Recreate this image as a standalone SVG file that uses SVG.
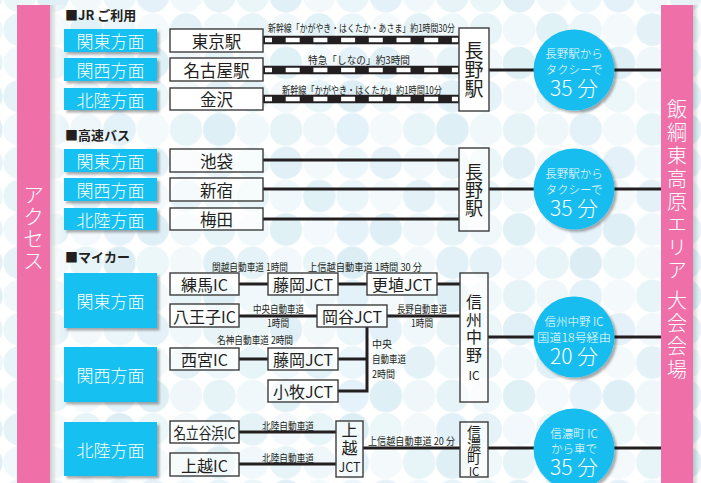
<svg xmlns="http://www.w3.org/2000/svg" width="701" height="483" viewBox="0 0 701 483">
<defs>
<style>
.lab{fill:#17c0f0;filter:url(#sh);}
.labt{font-family:"Noto Sans CJK JP",sans-serif;font-size:17px;font-weight:300;fill:#ffffff;text-anchor:middle;dominant-baseline:central;}
.box{fill:#ffffff;stroke:#3c3c3c;stroke-width:1.4;}
.boxt{fill:#ffffff;fill-opacity:0.62;stroke:#3c3c3c;stroke-width:1.4;}
.nt{font-family:"Noto Sans CJK JP",sans-serif;font-size:16.5px;fill:#231f20;text-anchor:middle;dominant-baseline:central;}
.mt{font-family:"Noto Sans CJK JP",sans-serif;font-size:16px;fill:#231f20;text-anchor:middle;dominant-baseline:central;}
.vt{font-family:"Noto Sans CJK JP",sans-serif;fill:#231f20;writing-mode:vertical-rl;text-anchor:start;}
.sm{font-family:"Noto Sans CJK JP",sans-serif;font-size:10px;fill:#231f20;}
.hd{font-family:"Noto Sans CJK JP",sans-serif;font-size:13px;font-weight:bold;fill:#231f20;}
.cir{fill:#16bdee;filter:url(#sh);}
.ct{font-family:"Noto Sans CJK JP",sans-serif;font-size:11.5px;font-weight:300;fill:#ffffff;text-anchor:middle;dominant-baseline:central;}
.cb{font-family:"Noto Sans CJK JP",sans-serif;font-size:21px;font-weight:300;fill:#ffffff;text-anchor:middle;dominant-baseline:central;}
.bar{fill:#ef6fa9;}
.bart{font-family:"Noto Sans CJK JP",sans-serif;font-weight:300;fill:#ffffff;writing-mode:vertical-rl;text-anchor:start;}
.road{stroke:#231f20;stroke-width:3;fill:none;}
.railb{stroke:#231f20;stroke-width:8.5;fill:none;}
.railw{stroke:#ffffff;stroke-width:4.4;fill:none;stroke-dasharray:14 13.7;stroke-dashoffset:7;}
</style>
<filter id="sh" x="-10%" y="-10%" width="130%" height="140%">
<feDropShadow dx="2.5" dy="2.5" stdDeviation="1.2" flood-color="#000000" flood-opacity="0.32"/>
</filter>
<linearGradient id="shadowL" x1="0" y1="0" x2="1" y2="0">
<stop offset="0" stop-color="#000000" stop-opacity="0.18"/>
<stop offset="1" stop-color="#000000" stop-opacity="0"/>
</linearGradient>
<linearGradient id="whiteL" x1="0" y1="0" x2="1" y2="0">
<stop offset="0" stop-color="#ffffff" stop-opacity="0.8"/>
<stop offset="1" stop-color="#ffffff" stop-opacity="0"/>
</linearGradient>
<pattern id="dots" patternUnits="userSpaceOnUse" x="2.95" y="12.95" width="233.1" height="166.5">
<circle cx="16.65" cy="16.65" r="16.3" fill="#e3f2f7"/>
<circle cx="49.95" cy="16.65" r="16.3" fill="#eef7fa"/>
<circle cx="83.25" cy="16.65" r="16.3" fill="#dcf0f6"/>
<circle cx="116.55" cy="16.65" r="16.3" fill="#e8f4f9"/>
<circle cx="149.85" cy="16.65" r="16.3" fill="#f2f8fb"/>
<circle cx="183.15" cy="16.65" r="16.3" fill="#dff0f6"/>
<circle cx="216.45" cy="16.65" r="16.3" fill="#ebf6f9"/>
<circle cx="16.65" cy="49.95" r="16.3" fill="#eef7fa"/>
<circle cx="49.95" cy="49.95" r="16.3" fill="#dbeef4"/>
<circle cx="83.25" cy="49.95" r="16.3" fill="#f1f8fb"/>
<circle cx="116.55" cy="49.95" r="16.3" fill="#e1f0f9"/>
<circle cx="149.85" cy="49.95" r="16.3" fill="#d8ecf3"/>
<circle cx="183.15" cy="49.95" r="16.3" fill="#edf6f9"/>
<circle cx="216.45" cy="49.95" r="16.3" fill="#e2f2f6"/>
<circle cx="16.65" cy="83.25" r="16.3" fill="#e0f0f5"/>
<circle cx="49.95" cy="83.25" r="16.3" fill="#f0f7fa"/>
<circle cx="83.25" cy="83.25" r="16.3" fill="#e3f2f7"/>
<circle cx="116.55" cy="83.25" r="16.3" fill="#d6ebf2"/>
<circle cx="149.85" cy="83.25" r="16.3" fill="#e8f5f8"/>
<circle cx="183.15" cy="83.25" r="16.3" fill="#f1f8fa"/>
<circle cx="216.45" cy="83.25" r="16.3" fill="#ddeef6"/>
<circle cx="16.65" cy="116.55" r="16.3" fill="#eff7fa"/>
<circle cx="49.95" cy="116.55" r="16.3" fill="#e2f1f6"/>
<circle cx="83.25" cy="116.55" r="16.3" fill="#ecf5f9"/>
<circle cx="116.55" cy="116.55" r="16.3" fill="#deeef7"/>
<circle cx="149.85" cy="116.55" r="16.3" fill="#f2f8fb"/>
<circle cx="183.15" cy="116.55" r="16.3" fill="#e3f2f7"/>
<circle cx="216.45" cy="116.55" r="16.3" fill="#d8ecf3"/>
<circle cx="16.65" cy="149.85" r="16.3" fill="#e6f4f7"/>
<circle cx="49.95" cy="149.85" r="16.3" fill="#dcedf4"/>
<circle cx="83.25" cy="149.85" r="16.3" fill="#f1f8fa"/>
<circle cx="116.55" cy="149.85" r="16.3" fill="#e8f4f9"/>
<circle cx="149.85" cy="149.85" r="16.3" fill="#e0eff7"/>
<circle cx="183.15" cy="149.85" r="16.3" fill="#eff7fa"/>
<circle cx="216.45" cy="149.85" r="16.3" fill="#e3f1f6"/>
</pattern>
</defs>

<g id="background">
<rect x="0" y="0" width="701" height="483" fill="#ffffff"/>
<rect x="0" y="0" width="701" height="483" fill="url(#dots)" opacity="0.85"/>
<rect x="50" y="5" width="16" height="478" fill="url(#whiteL)"/>
<rect x="50" y="5" width="7" height="478" fill="url(#shadowL)"/>
<rect x="693" y="5" width="6" height="478" fill="url(#shadowL)"/>
</g>

<g id="bar-left">
<rect class="bar" x="17" y="5" width="33" height="478"/>
<text class="bart" x="33.5" y="183.5" style="font-size:21px;letter-spacing:1px">アクセス</text>
</g>

<g id="bar-right">
<rect class="bar" x="661" y="5" width="32" height="478"/>
<text class="bart" x="677" y="99" style="font-size:20px;letter-spacing:3px">飯綱東高原エリア 大会会場</text>
</g>

<g id="headers">
<text class="hd" x="65" y="20">■JR ご利用</text>
<text class="hd" x="65" y="140">■高速バス</text>
<text class="hd" x="65" y="262">■マイカー</text>
</g>

<g id="connectors">
<line class="railb" x1="263" y1="40" x2="459" y2="40"/>
<line class="railw" x1="265" y1="40" x2="458" y2="40"/>
<line class="railb" x1="263" y1="70" x2="459" y2="70"/>
<line class="railw" x1="265" y1="70" x2="458" y2="70"/>
<line class="railb" x1="263" y1="99" x2="459" y2="99"/>
<line class="railw" x1="265" y1="99" x2="458" y2="99"/>
<text class="sm" x="268" y="32" textLength="187" lengthAdjust="spacingAndGlyphs">新幹線「かがやき・はくたか・あさま」約1時間30分</text>
<text class="sm" x="308" y="64" textLength="102" lengthAdjust="spacingAndGlyphs">特急「しなの」約3時間</text>
<text class="sm" x="282" y="94" textLength="160" lengthAdjust="spacingAndGlyphs">新幹線「かがやき・はくたか」約1時間10分</text>
<path class="road" d="M489 70 H661"/>
<path class="road" d="M263 160 H459 M263 189 H459 M263 219 H459"/>
<path class="road" d="M489 189 H661"/>
<path class="road" d="M239 284 H268 M338 284 H367 M437 284 H460"/>
<path class="road" d="M239 316 H317 M387 316 H460"/>
<path class="road" d="M239 359 H268 M338 359 H367"/>
<path class="road" d="M367 327 V391 H338"/>
<path class="road" d="M488 337 H661"/>
<path class="road" d="M239 432 H336 M239 464 H336 M363 448 H460"/>
<path class="road" d="M488 448 H661"/>
<text class="sm" x="212" y="270.5" textLength="76" lengthAdjust="spacingAndGlyphs">関越自動車道 1時間</text>
<text class="sm" x="308" y="270.5" textLength="114" lengthAdjust="spacingAndGlyphs">上信越自動車道 1時間 30 分</text>
<text class="sm" x="253" y="313" textLength="51" lengthAdjust="spacingAndGlyphs">中央自動車道</text>
<text class="sm" x="267" y="327" textLength="22" lengthAdjust="spacingAndGlyphs">1時間</text>
<text class="sm" x="397" y="313" textLength="50" lengthAdjust="spacingAndGlyphs">長野自動車道</text>
<text class="sm" x="411" y="327" textLength="22" lengthAdjust="spacingAndGlyphs">1時間</text>
<text class="sm" x="217" y="344" textLength="76" lengthAdjust="spacingAndGlyphs">名神自動車道 2時間</text>
<text class="sm" x="372" y="348">中央</text>
<text class="sm" x="372" y="363" textLength="34" lengthAdjust="spacingAndGlyphs">自動車道</text>
<text class="sm" x="372" y="378" textLength="23" lengthAdjust="spacingAndGlyphs">2時間</text>
<text class="sm" x="262" y="429.5" textLength="52" lengthAdjust="spacingAndGlyphs">北陸自動車道</text>
<text class="sm" x="262" y="461.5" textLength="52" lengthAdjust="spacingAndGlyphs">北陸自動車道</text>
<text class="sm" x="368" y="445" textLength="87" lengthAdjust="spacingAndGlyphs">上信越自動車道 20 分</text>
</g>

<g id="jr-kanto"><rect class="lab" x="64" y="29" width="93" height="23"/><text class="labt" x="110.5" y="40.5">関東方面</text></g>
<g id="jr-kansai"><rect class="lab" x="64" y="58" width="93" height="23"/><text class="labt" x="110.5" y="69.5">関西方面</text></g>
<g id="jr-hokuriku"><rect class="lab" x="64" y="88" width="93" height="22"/><text class="labt" x="110.5" y="99">北陸方面</text></g>
<g id="jr-tokyo"><rect class="box" x="170" y="29" width="93" height="23"/><text class="nt" x="216.5" y="40.5">東京駅</text></g>
<g id="jr-nagoya"><rect class="box" x="170" y="58" width="93" height="23"/><text class="nt" x="216.5" y="69.5">名古屋駅</text></g>
<g id="jr-kanazawa"><rect class="box" x="170" y="88" width="93" height="22"/><text class="nt" x="216.5" y="99">金沢</text></g>
<g id="jr-nagano"><rect class="box" x="459" y="28" width="30" height="83"/><text class="vt" x="474" y="41" style="font-size:19px">長野駅</text></g>
<g id="jr-time"><circle class="cir" cx="574" cy="70" r="40.5"/><text class="ct" x="574" y="53">長野駅から</text><text class="ct" x="574" y="68.5">タクシーで</text><text class="cb" x="574" y="87">35 分</text></g>

<g id="bus-kanto"><rect class="lab" x="64" y="149" width="93" height="23"/><text class="labt" x="110.5" y="160.5">関東方面</text></g>
<g id="bus-kansai"><rect class="lab" x="64" y="178" width="93" height="23"/><text class="labt" x="110.5" y="189.5">関西方面</text></g>
<g id="bus-hokuriku"><rect class="lab" x="64" y="208" width="93" height="22"/><text class="labt" x="110.5" y="219">北陸方面</text></g>
<g id="bus-ikebukuro"><rect class="boxt" x="170" y="149" width="93" height="23"/><text class="nt" x="216.5" y="160.5">池袋</text></g>
<g id="bus-shinjuku"><rect class="boxt" x="170" y="178" width="93" height="23"/><text class="nt" x="216.5" y="189.5">新宿</text></g>
<g id="bus-umeda"><rect class="boxt" x="170" y="208" width="93" height="22"/><text class="nt" x="216.5" y="219">梅田</text></g>
<g id="bus-nagano"><rect class="boxt" x="459" y="148" width="30" height="83"/><text class="vt" x="474" y="163" style="font-size:18px">長野駅</text></g>
<g id="bus-time"><circle class="cir" cx="574" cy="189" r="40.5"/><text class="ct" x="574" y="173">長野駅から</text><text class="ct" x="574" y="188.5">タクシーで</text><text class="cb" x="574" y="207">35 分</text></g>

<g id="car-kanto"><rect class="lab" x="64" y="273" width="93" height="55"/><text class="labt" x="110.5" y="300.5">関東方面</text></g>
<g id="car-kansai"><rect class="lab" x="64" y="347" width="93" height="55"/><text class="labt" x="110.5" y="374.5">関西方面</text></g>
<g id="car-hokuriku"><rect class="lab" x="64" y="422" width="93" height="54"/><text class="labt" x="110.5" y="449">北陸方面</text></g>
<g id="car-nerima"><rect class="boxt" x="170" y="273" width="69" height="22"/><text class="mt" x="204.5" y="284">練馬IC</text></g>
<g id="car-fujioka1"><rect class="boxt" x="268" y="273" width="70" height="22"/><text class="mt" x="303" y="284">藤岡JCT</text></g>
<g id="car-koshoku"><rect class="boxt" x="367" y="273" width="70" height="22"/><text class="mt" x="402" y="284">更埴JCT</text></g>
<g id="car-hachioji"><rect class="boxt" x="170" y="304" width="69" height="23"/><text class="mt" x="204.5" y="315.5">八王子IC</text></g>
<g id="car-okaya"><rect class="boxt" x="317" y="305" width="70" height="22"/><text class="mt" x="352" y="316">岡谷JCT</text></g>
<g id="car-nishinomiya"><rect class="boxt" x="170" y="348" width="69" height="22"/><text class="mt" x="204.5" y="359">西宮IC</text></g>
<g id="car-fujioka2"><rect class="boxt" x="268" y="348" width="70" height="22"/><text class="mt" x="303" y="359">藤岡JCT</text></g>
<g id="car-komaki"><rect class="boxt" x="268" y="380" width="70" height="22"/><text class="mt" x="303" y="391">小牧JCT</text></g>
<g id="car-shinshunakano"><rect class="boxt" x="460" y="273" width="28" height="129"/><text class="vt" x="474" y="294" style="font-size:16px;letter-spacing:1.7px">信州中野</text><text class="mt" x="474" y="374" style="font-size:12px">IC</text></g>
<g id="car-nadachi"><rect class="boxt" x="170" y="421" width="69" height="22"/><text class="mt" x="204.5" y="432" textLength="62" lengthAdjust="spacingAndGlyphs">名立谷浜IC</text></g>
<g id="car-joetsu"><rect class="boxt" x="170" y="453" width="69" height="23"/><text class="mt" x="204.5" y="464.5">上越IC</text></g>
<g id="car-joetsujct"><rect class="boxt" x="336" y="421" width="27" height="56"/><text class="vt" x="349.5" y="422" style="font-size:16px;letter-spacing:1.5px">上越</text><text class="mt" x="349.5" y="466" style="font-size:12.5px">JCT</text></g>
<g id="car-shinanomachi"><rect class="boxt" x="460" y="422" width="28" height="55"/><text class="vt" x="474" y="424.5" style="font-size:14px;letter-spacing:-0.7px">信濃町</text><text class="mt" x="474" y="471" style="font-size:11.5px">IC</text></g>
<g id="car-time1"><circle class="cir" cx="574" cy="337" r="40.5"/><text class="ct" x="574" y="321">信州中野 IC</text><text class="ct" x="574" y="336.5" textLength="74" lengthAdjust="spacingAndGlyphs">国道18号経由</text><text class="cb" x="574" y="355">20 分</text></g>
<g id="car-time2"><circle class="cir" cx="574" cy="449" r="40.5"/><text class="ct" x="574" y="433">信濃町 IC</text><text class="ct" x="574" y="447.5">から車で</text><text class="cb" x="574" y="466">35 分</text></g>
</svg>
